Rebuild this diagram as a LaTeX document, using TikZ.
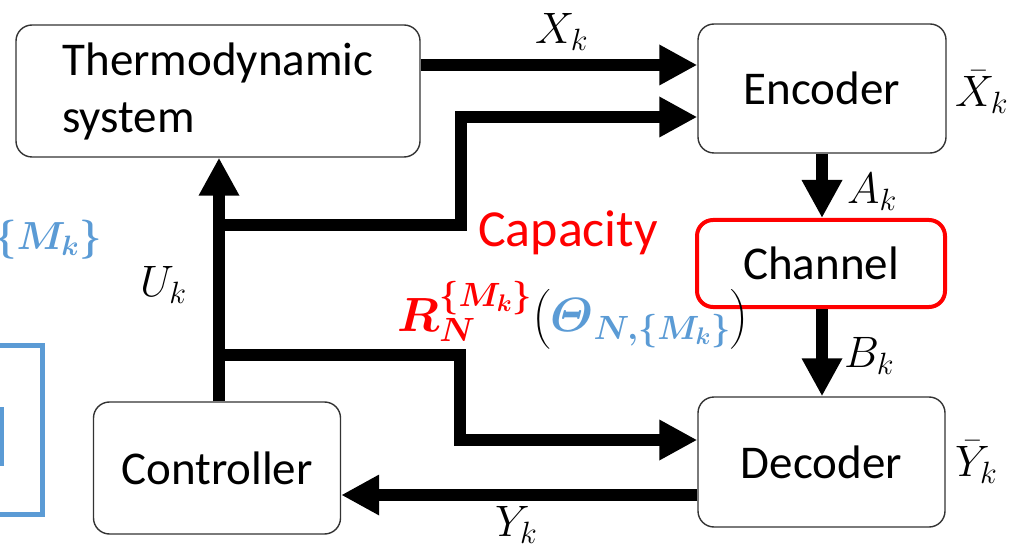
\documentclass[tikz,border=0pt]{standalone}
\usepackage{fix-cm}
\usepackage{amsmath}
\usepackage{fontspec}
\setmainfont{Carlito}
\usetikzlibrary{arrows.meta}
\definecolor{thblue}{RGB}{91,155,213}
\begin{document}
\begin{tikzpicture}[x=1pt,y=-1pt,
  box/.style={draw=black!80, line width=1.4pt, rounded corners=16pt, inner sep=0pt, font=\fontsize{47}{57}\selectfont},
  flow/.style={line width=12pt, line join=miter, -{Triangle[length=38pt,width=38pt]}},
  lbl/.style={font=\fontsize{44}{52}\selectfont, inner sep=0pt, anchor=west}]
\useasboundingbox (0,0) rectangle (1017,553);
\clip (0,0) rectangle (1017,553);

% nodes
\node[box, minimum width=404pt, minimum height=132pt, align=left] (thermo) at (218,91) {Thermodynamic\\system};
\node[box, minimum width=248pt, minimum height=129pt] (enc) at (822,88.5) {Encoder};
\node[box, draw=red, line width=4pt, minimum width=248pt, minimum height=87pt] (chan) at (821,263.5) {Channel};
\node[box, minimum width=247pt, minimum height=130pt] (dec) at (821.5,462) {Decoder};
\node[box, minimum width=247pt, minimum height=132pt] (ctrl) at (217,468) {Controller};

% helper coordinates
\coordinate (r1) at (0,65);
\coordinate (r2) at (0,117);
\coordinate (r3) at (0,440);
\coordinate (r4) at (0,495);
\coordinate (cu) at (219,0);
\coordinate (ca) at (822,0);
\coordinate (j1) at (219,225);
\coordinate (j2) at (219,355);
\coordinate (k1) at (461,225);
\coordinate (k2) at (460,355);

% connectors
\draw[flow] (thermo.east |- r1) -- (enc.west |- r1);
\draw[flow] (ctrl.north -| cu) -- (thermo.south -| cu);
\draw[flow] (j1) -- (k1) -- (k1 |- r2) -- (enc.west |- r2);
\draw[flow] (j2) -- (k2) -- (k2 |- r3) -- (dec.west |- r3);
\draw[flow] (dec.west |- r4) -- (ctrl.east |- r4);
\draw[flow] (enc.south -| ca) -- (chan.north -| ca);
\draw[flow] (chan.south -| ca) -- (dec.north -| ca);

% labels
\node[lbl] (xk) at (535,32) {$X_k$};
\node[lbl] (xbar) at (955,92) {$\bar{X}_k$};
\node[lbl] (ak) at (847,192) {$A_k$};
\node[lbl] (bk) at (844,356) {$B_k$};
\node[lbl] (ybar) at (955,462) {$\bar{Y}_k$};
\node[lbl] (uk) at (140,285) {$U_k$};
\node[lbl] (yk) at (495,525) {$Y_k$};

\node[font=\fontsize{52}{60}\selectfont, text=red, inner sep=0pt, anchor=base] (cap) at (568,247) {Capacity};
\node[font=\fontsize{48}{56}\selectfont, inner sep=0pt, anchor=base west] (rate) at (397,331)
  {$\color{red}\boldsymbol{R}_{\boldsymbol{N}}^{\boldsymbol{\{M_k\}}}\color{black}\bigl(\color{thblue}\boldsymbol{\varTheta}_{\boldsymbol{N,\{M_k\}}}\color{black}\bigr)$};

% partial elements at left edge
\node[font=\fontsize{56}{64}\selectfont, text=thblue, inner sep=0pt, anchor=east] (lpart) at (102,240) {$\scriptstyle\boldsymbol{N,\{M_k\}}$};
\draw[thblue, line width=5pt] (-20,345) rectangle (42,514);
\fill[thblue] (-5,407) rectangle (4,466);
\end{tikzpicture}
\end{document}
